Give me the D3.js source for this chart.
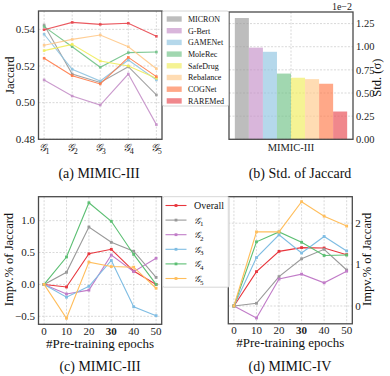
<!DOCTYPE html>
<html><head><meta charset="utf-8">
<script src="https://cdn.jsdelivr.net/npm/d3@7"></script>
<style>
body{margin:0;background:#fff;}
svg{display:block;font-family:"Liberation Serif","Times New Roman",serif;}
</style></head>
<body>
<svg id="c" width="390" height="376"></svg>
<script>
// ---------- DATA ----------
const groups = ["1","2","3","4","5"];
const methods = ["MICRON","G-Bert","GAMENet","MoleRec","SafeDrug","Rebalance","COGNet","RAREMed"];
const colorsMethods = ["#999999","#c48fc8","#8ec3e0","#6fc186","#f0ec5a","#ffc98a","#ff7a48","#e8474f"];
const jacMICRON    = [0.5424,0.5156,0.5110,0.5196,0.5042];
const jacGBert     = [0.5124,0.5036,0.4987,0.5156,0.4880];
const jacGAMENet   = [0.5373,0.5182,0.5118,0.5233,0.5124];
const jacMoleRec   = [0.5415,0.5305,0.5193,0.5273,0.5276];
const jacSafeDrug  = [0.5284,0.5318,0.5227,0.5200,0.5133];
const jacRebalance = [0.5313,0.5345,0.5369,0.5305,0.5185];
const jacCOGNet    = [0.5242,0.5147,0.5102,0.5247,0.5142];
const jacRAREMed   = [0.5398,0.5438,0.5427,0.5433,0.5362];
const stdValues    = [1.31,0.99,0.945,0.71,0.665,0.65,0.60,0.30]; // x1e-2
const jacTicks = [0.48,0.50,0.52,0.54];
const stdTicks = [0,0.25,0.5,0.75,1.0,1.25];

const epochs = [0,10,20,30,40,50];
const seriesNames = ["Overall","1","2","3","4","5"];
const seriesColors = ["#e8363d","#999999","#c17cc8","#7fbde3","#5cbf73","#ffbe5c"];
const m3Overall = [0,-0.04,0.48,0.55,0.21,0.00];
const m3G1      = [0,0.19,0.90,0.66,0.52,0.11];
const m3G2      = [0,-0.15,-0.09,0.46,0.20,0.41];
const m3G3      = [0,-0.20,-0.03,0.375,-0.35,-0.49];
const m3G4      = [0,0.43,1.28,0.99,0.47,0.00];
const m3G5      = [0,-0.53,0.35,0.28,0.27,-0.06];
const m4Overall = [0,0.83,1.32,1.41,1.40,1.24];
const m4G1      = [0,0.065,0.71,1.14,1.37,0.87];
const m4G2      = [0,-0.29,0.65,0.77,0.56,0.84];
const m4G3      = [0,1.17,1.72,1.28,1.68,1.33];
const m4G4      = [0,1.55,1.79,1.54,1.22,1.23];
const m4G5      = [0,1.79,1.79,2.52,2.17,1.93];
const impTicks3 = [-0.5,0,0.5,1.0];
const impTicks4 = [0,1,2];

const jacSeries = [jacMICRON,jacGBert,jacGAMENet,jacMoleRec,jacSafeDrug,jacRebalance,jacCOGNet,jacRAREMed];
const m3Series = [m3Overall,m3G1,m3G2,m3G3,m3G4,m3G5];
const m4Series = [m4Overall,m4G1,m4G2,m4G3,m4G4,m4G5];

// ---------- DRAW ----------
const svg = d3.select("#c");
const SPINE = "#4a4a4a", GRID = "#cfcfcf";
const TICKFS = 10.5, LABFS = 12.5, CAPFS = 14;

function frame(g, x0, x1, y0, y1){
  g.append("rect").attr("x",x0).attr("y",y0).attr("width",x1-x0).attr("height",y1-y0)
   .attr("fill","none").attr("stroke",SPINE).attr("stroke-width",1.3);
}
function hgrid(g, y, ticks, x0, x1){
  g.selectAll(null).data(ticks).enter().append("line")
   .attr("x1",x0).attr("x2",x1).attr("y1",d=>y(d)).attr("y2",d=>y(d))
   .attr("stroke",GRID).attr("stroke-width",0.8).attr("stroke-dasharray","2,1.5");
}
function vgrid(g, xs, y0, y1){
  g.selectAll(null).data(xs).enter().append("line")
   .attr("x1",d=>d).attr("x2",d=>d).attr("y1",y0).attr("y2",y1)
   .attr("stroke",GRID).attr("stroke-width",0.8).attr("stroke-dasharray","2,1.5");
}
function gLabel(sel, n, fs){
  sel.append("tspan").attr("font-style","italic").attr("font-family","DejaVu Serif").attr("font-size",fs*0.9).text("\u{1D4A2}");
  sel.append("tspan").attr("font-size",fs*0.7).attr("dy",fs*0.25).text(n);
}
function fmtMinus(v, f){ return d3.format(f)(v).replace("-","\u2212"); }

// ---- Panel (a) ----
{
  const x0=38.5,x1=162,y0=11,y1=139.3;
  const x = d3.scalePoint().domain(groups).range([x0,x1]).padding(0.2);
  const y = d3.scaleLinear().domain([0.48,0.55]).range([y1,y0]);
  const g = svg.append("g");
  hgrid(g,y,jacTicks,x0,x1);
  vgrid(g,groups.map(d=>x(d)),y0,y1);
  const line = d3.line().x((d,i)=>x(groups[i])).y(d=>y(d));
  jacSeries.forEach((s,k)=>{
    g.append("path").attr("d",line(s)).attr("fill","none").attr("stroke",colorsMethods[k]).attr("stroke-width",1.1).attr("opacity",0.9);
    g.selectAll(null).data(s).enter().append("rect")
     .attr("x",(d,i)=>x(groups[i])-1.3).attr("y",d=>y(d)-1.3).attr("width",2.6).attr("height",2.6)
     .attr("fill",colorsMethods[k]).attr("opacity",0.9);
  });
  frame(g,x0,x1,y0,y1);
  g.selectAll(null).data(jacTicks).enter().append("text")
   .attr("x",x0-3.5).attr("y",d=>y(d)).attr("dy","0.35em").attr("text-anchor","end")
   .attr("font-size",TICKFS+0.5).attr("fill","#222").text(d=>d3.format(".2f")(d));
  groups.forEach(gr=>{
    const t=g.append("text").attr("x",x(gr)).attr("y",y1+11.5).attr("text-anchor","middle").attr("font-size",TICKFS+1).attr("fill","#222");
    gLabel(t,gr,TICKFS+1);
  });
  g.append("text").attr("transform",`translate(14,${(y0+y1)/2}) rotate(-90)`).attr("text-anchor","middle")
   .attr("font-size",LABFS).attr("fill","#111").text("Jaccard");
  g.append("text").attr("x",99).attr("y",178).attr("text-anchor","middle").attr("font-size",CAPFS).attr("fill","#111").text("(a) MIMIC-III");
}

// ---- Panel (b) ----
{
  const x0=229,x1=353,y0=12,y1=139.3;
  const xc = d3.scaleBand().domain(["MIMIC-III"]).range([x0,x1]).paddingOuter(0.052);
  const xm = d3.scaleBand().domain(methods).range([xc("MIMIC-III"),xc("MIMIC-III")+xc.bandwidth()]);
  const y = d3.scaleLinear().domain([0,1.375]).range([y1,y0]);
  const g = svg.append("g");
  hgrid(g,y,stdTicks,x0,x1);
  vgrid(g,[xc("MIMIC-III")+xc.bandwidth()/2],y0,y1);
  g.selectAll(null).data(stdValues).enter().append("rect")
   .attr("x",(d,i)=>xm(methods[i])).attr("y",d=>y(d)).attr("width",xm.bandwidth()).attr("height",d=>y1-y(d))
   .attr("fill",(d,i)=>colorsMethods[i]).attr("fill-opacity",0.65);
  frame(g,x0,x1,y0,y1);
  g.selectAll(null).data(stdTicks).enter().append("text")
   .attr("x",x1+3).attr("y",d=>y(d)).attr("dy","0.35em").attr("text-anchor","start")
   .attr("font-size",TICKFS).attr("fill","#222").text(d=>d3.format(".2f")(d));
  g.append("text").attr("x",xc("MIMIC-III")+xc.bandwidth()/2).attr("y",y1+11.5).attr("text-anchor","middle")
   .attr("font-size",TICKFS).attr("fill","#222").text("MIMIC-III");
  g.append("text").attr("x",x1-1).attr("y",y0-2).attr("text-anchor","end").attr("font-size",TICKFS-0.5).attr("fill","#222").text("1e\u22122");
  g.append("text").attr("transform",`translate(381,${(y0+y1)/2 + 2}) rotate(-90)`).attr("text-anchor","middle")
   .attr("font-size",LABFS).attr("fill","#111").text("Std. (\u03C3)");
  g.append("text").attr("x",300).attr("y",178).attr("text-anchor","middle").attr("font-size",CAPFS).attr("fill","#111").text("(b) Std. of Jaccard");
  // legend
  const lg = svg.append("g");
  lg.append("rect").attr("x",162.5).attr("y",11).attr("width",66).attr("height",95).attr("rx",1.5)
    .attr("fill","#fff").attr("fill-opacity",0.85).attr("stroke","#cccccc").attr("stroke-width",0.8);
  methods.forEach((m,i)=>{
    const yy = 19 + i*11.7;
    lg.append("rect").attr("x",166.7).attr("y",yy-2.7).attr("width",15).attr("height",5.4)
      .attr("fill",colorsMethods[i]).attr("fill-opacity",0.65);
    lg.append("text").attr("x",188).attr("y",yy).attr("dy","0.35em").attr("font-size",8).attr("fill","#111").text(m);
  });
}

// ---- Panels (c),(d) ----
function impPanel(x0,x1,y0,y1,ydom,ticks,series,right,label,capX,caption){
  const x = d3.scaleLinear().domain([-2.5,52.5]).range([x0,x1]);
  const y = d3.scaleLinear().domain(ydom).range([y1,y0]);
  const g = svg.append("g");
  hgrid(g,y,ticks,x0,x1);
  vgrid(g,epochs.map(d=>x(d)),y0,y1);
  const line = d3.line().x((d,i)=>x(epochs[i])).y(d=>y(d));
  series.forEach((s,k)=>{
    g.append("path").attr("d",line(s)).attr("fill","none").attr("stroke",seriesColors[k]).attr("stroke-width",1.1);
    g.selectAll(null).data(s).enter().append("rect")
     .attr("x",(d,i)=>x(epochs[i])-1.4).attr("y",d=>y(d)-1.4).attr("width",2.8).attr("height",2.8)
     .attr("fill",seriesColors[k]);
  });
  frame(g,x0,x1,y0,y1);
  g.selectAll(null).data(ticks).enter().append("text")
   .attr("x",right? x1+3 : x0-3.5).attr("y",d=>y(d)).attr("dy","0.35em").attr("text-anchor",right?"start":"end")
   .attr("font-size",TICKFS+0.5).attr("fill","#222").text(d=>right? fmtMinus(d,"d") : fmtMinus(d,".1f"));
  g.selectAll(null).data(epochs).enter().append("text")
   .attr("x",d=>x(d)).attr("y",y1+10.5).attr("text-anchor","middle").attr("font-size",TICKFS+0.5)
   .attr("font-weight",d=>d===30?"bold":"normal").attr("fill","#222").text(d=>d);
  g.append("text").attr("x",(x0+x1)/2).attr("y",y1+23.5).attr("text-anchor","middle").attr("font-size",LABFS+0.5).attr("fill","#111").text("#Pre-training epochs");
  const lx = right? 371 : 13;
  g.append("text").attr("transform",`translate(${lx},${(y0+y1)/2 - 1}) rotate(-90)`).attr("text-anchor","middle")
   .attr("font-size",LABFS).attr("fill","#111").text(label);
  g.append("text").attr("x",capX).attr("y",371).attr("text-anchor","middle").attr("font-size",CAPFS).attr("fill","#111").text(caption);
}
impPanel(38.5,161.7,196.7,324.3,[-0.625,1.375],impTicks3,m3Series,false,"Impv.% of Jaccard",100,"(c) MIMIC-III");
impPanel(228.3,352.3,196.7,323.8,[-0.43,2.64],impTicks4,m4Series,true,"Impv.% of Jaccard",290,"(d) MIMIC-IV");

// legend (c)
{
  const lg = svg.append("g");
  lg.append("rect").attr("x",162.7).attr("y",196.7).attr("width",66.5).attr("height",90.5).attr("rx",1.5)
    .attr("fill","#fff").attr("fill-opacity",0.85).attr("stroke","#cccccc").attr("stroke-width",0.8);
  seriesNames.forEach((n,i)=>{
    const yy = 205.5 + i*14.6;
    lg.append("line").attr("x1",165.5).attr("x2",186.5).attr("y1",yy).attr("y2",yy).attr("stroke",seriesColors[i]).attr("stroke-width",1.1);
    lg.append("rect").attr("x",176-1.4).attr("y",yy-1.4).attr("width",2.8).attr("height",2.8).attr("fill",seriesColors[i]);
    const t = lg.append("text").attr("x",194).attr("y",yy).attr("dy","0.35em").attr("font-size",10).attr("fill","#111");
    if(n==="Overall") t.text(n); else gLabel(t,n,10);
  });
}
</script>
</body></html>
